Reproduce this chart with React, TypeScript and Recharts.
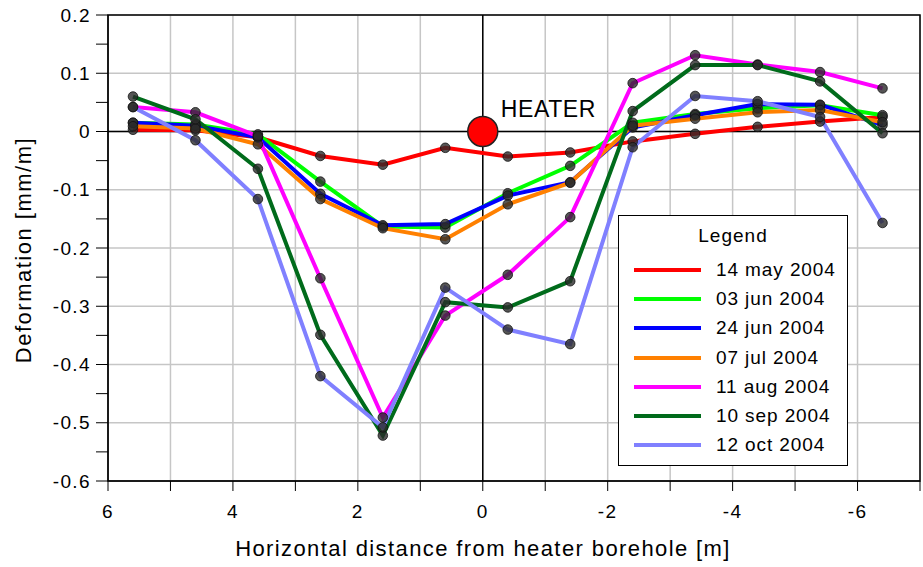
import React from 'react';
import {
  LineChart,
  Line,
  XAxis,
  YAxis,
  CartesianGrid,
  ReferenceLine,
  ReferenceDot,
  ReferenceArea,
  Legend,
} from 'recharts';

const FONT = '"Liberation Sans", Arial, sans-serif';

// horizontal distance of each measuring point from the heater [m]
const positions = [5.6, 4.6, 3.6, 2.6, 1.6, 0.6, -0.4, -1.4, -2.4, -3.4, -4.4, -5.4, -6.4];

// deformation [mm/m] per survey
const may14 = [0.003, 0.002, -0.01, -0.042, -0.057, -0.028, -0.043, -0.036, -0.017, -0.004, 0.008, 0.017, 0.025];
const jun03 = [0.015, 0.012, -0.005, -0.086, -0.163, -0.165, -0.106, -0.059, 0.015, 0.03, 0.04, 0.045, 0.028];
const jun24 = [0.015, 0.01, -0.01, -0.107, -0.161, -0.159, -0.11, -0.087, 0.007, 0.028, 0.047, 0.046, 0.011];
const jul07 = [0.009, 0.005, -0.022, -0.116, -0.166, -0.185, -0.125, -0.088, 0.01, 0.022, 0.033, 0.037, 0.016];
const aug11 = [0.042, 0.033, -0.008, -0.252, -0.491, -0.316, -0.246, -0.147, 0.083, 0.131, 0.115, 0.102, 0.074];
const sep10 = [0.06, 0.021, -0.064, -0.349, -0.522, -0.293, -0.302, -0.257, 0.035, 0.114, 0.114, 0.086, -0.003];
const oct12 = [0.042, -0.015, -0.116, -0.42, -0.508, -0.268, -0.34, -0.365, -0.027, 0.061, 0.052, 0.025, -0.157];

const series = [
  { key: 'may14', name: '14 may 2004', color: '#ff0000', values: may14 },
  { key: 'jun03', name: '03 jun 2004', color: '#00ff00', values: jun03 },
  { key: 'jun24', name: '24 jun 2004', color: '#0000ff', values: jun24 },
  { key: 'jul07', name: '07 jul 2004', color: '#ff8000', values: jul07 },
  { key: 'aug11', name: '11 aug 2004', color: '#ff00ff', values: aug11 },
  { key: 'sep10', name: '10 sep 2004', color: '#006b1b', values: sep10 },
  { key: 'oct12', name: '12 oct 2004', color: '#8080ff', values: oct12 },
];

const xTicks = [6, 5, 4, 3, 2, 1, 0, -1, -2, -3, -4, -5, -6, -7];
const yTicks = [0.2, 0.15, 0.1, 0.05, 0, -0.05, -0.1, -0.15, -0.2, -0.25, -0.3, -0.35, -0.4, -0.45, -0.5, -0.55, -0.6];
const yGrid = [0.2, 0.1, 0, -0.1, -0.2, -0.3, -0.4, -0.5, -0.6];

const data = positions.map((x, i) => {
  const row: Record<string, number> = { x };
  series.forEach(s => { row[s.key] = s.values[i]; });
  return row;
});

const fmtX = (v: number) => (v % 2 === 0 ? String(v) : '');
const fmtY = (v: number) => (Math.round(v * 100) % 10 === 0 ? String(Math.round(v * 10) / 10) : '');

const tickStyle = { fill: '#000', fontSize: 19, fontFamily: FONT, letterSpacing: 1.4 };

const LegendBox = () => (
  <div
    style={{
      boxSizing: 'border-box',
      width: 230,
      height: 251,
      border: '1.5px solid #000',
      background: '#fff',
      fontFamily: FONT,
      color: '#000',
      paddingTop: 5,
    }}
  >
    <div style={{ textAlign: 'center', fontSize: 19, letterSpacing: 1, height: 30, lineHeight: '30px', marginBottom: 4 }}>
      Legend
    </div>
    {series.map(s => (
      <div key={s.key} style={{ display: 'flex', alignItems: 'center', height: 29.3, paddingLeft: 15 }}>
        <span style={{ display: 'inline-block', width: 67, height: 4, background: s.color, marginRight: 15 }} />
        <span style={{ fontSize: 19, letterSpacing: 0.9 }}>{s.name}</span>
      </div>
    ))}
  </div>
);

const heaterLabel = (props: any) => {
  const vb = props.viewBox || {};
  return (
    <text x={vb.x + vb.width + 3} y={vb.y} fontSize={23} letterSpacing={0.6} fontFamily={FONT} fill="#000">
      HEATER
    </text>
  );
};

const xTitle = () => (
  <text x={483} y={556} textAnchor="middle" fontSize={22} letterSpacing={1.4} fontFamily={FONT} fill="#000">
    Horizontal distance from heater borehole [m]
  </text>
);

const yTitle = () => (
  <text
    transform="translate(31,250) rotate(-90)"
    textAnchor="middle"
    fontSize={22}
    letterSpacing={1.5}
    fontFamily={FONT}
    fill="#000"
  >
    Deformation [mm/m]
  </text>
);

const App: React.FC = () => (
  <div style={{ position: 'absolute', left: 0, top: 0, width: 923, height: 567, background: '#fff' }}>
    <LineChart width={923} height={567} data={data} margin={{ top: 15, right: 3, bottom: 0, left: 0 }}>
      <CartesianGrid stroke="#c6c6c6" strokeWidth={1.5} horizontalValues={yGrid} />
      <XAxis
        dataKey="x"
        type="number"
        domain={[-7, 6]}
        reversed
        ticks={xTicks}
        interval={0}
        tickFormatter={fmtX}
        height={86}
        tickSize={10}
        tickMargin={14}
        stroke="#000"
        tick={tickStyle}
        allowDataOverflow
        label={{ content: xTitle }}
      />
      <YAxis
        type="number"
        domain={[-0.6, 0.2]}
        ticks={yTicks}
        interval={0}
        tickFormatter={fmtY}
        width={108}
        tickSize={12}
        tickMargin={5}
        stroke="#000"
        tick={tickStyle}
        allowDataOverflow
        label={{ content: yTitle }}
      />
      <ReferenceArea x1={6} x2={-7} y1={-0.6} y2={0.2} fill="none" stroke="#000" strokeWidth={1.5} />
      <ReferenceLine x={0} stroke="#000" strokeWidth={1.5} />
      <ReferenceLine y={0} stroke="#000" strokeWidth={1.5} />
      {series.map(s => (
        <Line
          key={s.key}
          dataKey={s.key}
          name={s.name}
          stroke={s.color}
          strokeWidth={4}
          dot={{ r: 4.8, fill: '#2a2a2a', fillOpacity: 0.8, stroke: '#111', strokeWidth: 0.8 }}
          activeDot={false}
          isAnimationActive={false}
        />
      ))}
      <ReferenceDot x={0} y={0} r={15} fill="#ff0000" stroke="#222" strokeWidth={1.5} label={heaterLabel} />
      <Legend
        verticalAlign="middle"
        align="center"
        layout="horizontal"
        wrapperStyle={{ left: 618, top: 215, width: 230, height: 251 }}
        content={LegendBox}
      />
    </LineChart>
  </div>
);

export default App;
